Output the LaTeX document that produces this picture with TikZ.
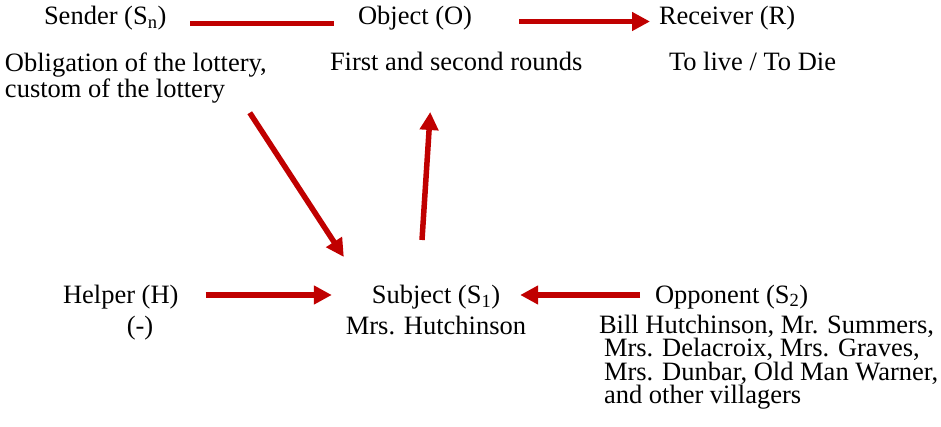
\documentclass[tikz,border=0pt]{standalone}
\usepackage{fontspec}
\setmainfont{Liberation Serif}
\usepackage{xcolor}
\usetikzlibrary{arrows.meta, calc}
\definecolor{actred}{RGB}{192,0,0}

\begin{document}
\begin{tikzpicture}[x=1pt, y=-1pt,
    every node/.style={inner sep=0pt, outer sep=0pt, font=\fontsize{26.5}{23.5}\selectfont},
    role/.style={anchor=base west},
    link/.style={draw=actred, line width=5.5pt},
    act/.style={link, -{Triangle[length=18pt,width=18pt]}}]
        \useasboundingbox (0,0) rectangle (941,427);

        % Top row
        \node[role] (sender) at (44,25) {Sender (S\textsubscript{n})};
        \node[role] (object) at (358,25) {Object (O)};
        \node[role] (receiver) at (659,25) {Receiver (R)};

        \node[anchor=north west, align=left, font=\fontsize{26.5}{22}\selectfont] (oblig) at (5,53)
          {Obligation of the lottery,\\custom of the lottery};
        \node[role] (rounds) at (330,71) {First and second rounds};
        \node[role] (fate) at (669,71) {To live / To Die};

        % Bottom row
        \node[role] (helper) at (63,303) {Helper (H)};
        \node[anchor=base] (none) at (140,334) {(-)};
        \node[anchor=north, align=center, font=\fontsize{26.5}{31}\selectfont] (subject) at (436,285)
          {Subject (S\textsubscript{1})\\Mrs. Hutchinson};
        \node[role] (opponent) at (655,303) {Opponent (S\textsubscript{2})};
        \node[anchor=north west, align=left] (villagers) at (599,315)
          {Bill Hutchinson, Mr. Summers,\\
           \hspace{5pt}Mrs. Delacroix, Mrs. Graves,\\
           \hspace{5pt}Mrs. Dunbar, Old Man Warner,\\
           \hspace{5pt}and other villagers};

        % Axes of the actantial model
        \draw[link] ($(sender.base east)+(24,-1.5)$) -- ($(object.base west)+(-24,-1.5)$);
        \draw[act] ($(object.base east)+(47,-3.5)$) -- ($(receiver.base west)+(-9,-3.5)$);
        \draw[act] ($(oblig.south east)+(-17,10)$) -- ($(subject.north west)+(-2,-28)$);
        \draw[act] ($(subject.north)+(-14,-45)$) -- ($(rounds.base)+(-26,41)$);
        \draw[act] ($(helper.base east)+(27,-8)$) -- ($(subject.north west)+(-14,10)$);
        \draw[act] ($(opponent.base west)+(-15,-8)$) -- ($(subject.north east)+(-6,10)$);
    \end{tikzpicture}
\end{document}
